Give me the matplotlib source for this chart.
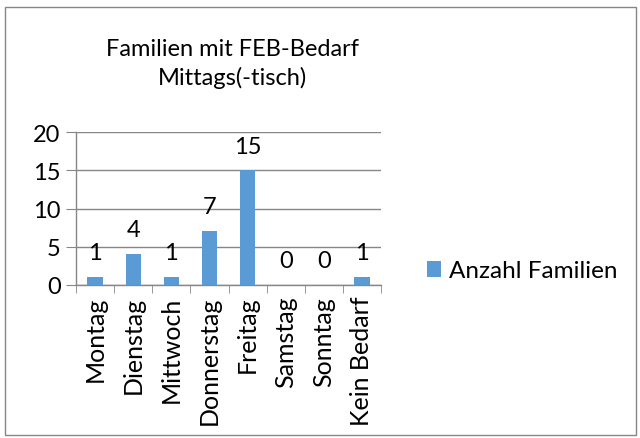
import numpy as np
import matplotlib.pyplot as plt
from matplotlib.patches import Rectangle

plt.rcParams['font.family'] = ['Lato', 'DejaVu Sans']

tage = ['Montag', 'Dienstag', 'Mittwoch', 'Donnerstag', 'Freitag',
        'Samstag', 'Sonntag', 'Kein Bedarf']
familien = [1, 4, 1, 7, 15, 0, 0, 1]
yticks = [0, 5, 10, 15, 20]

W, H = 640, 439
fig = plt.figure(figsize=(W/100, H/100), dpi=100)
ax = fig.add_axes([76/W, 1-285.7/H, (381-76)/W, (285.7-133.3)/H])

x = np.arange(len(tage))
bars = ax.bar(x, familien, width=0.4, color='#5B9BD5', label='Anzahl Familien', zorder=3)
for xi, v in zip(x, familien):
    ax.annotate(str(v), (xi, v), xytext=(0, 10), textcoords='offset points',
                ha='center', va='bottom', fontsize=17)

ax.set_ylim(0, 20)
ax.set_xlim(-0.5, len(tage)-0.5)
ax.set_yticks(yticks)
ax.set_yticklabels([str(t) for t in yticks], fontsize=17)
ax.set_xticks(x)
ax.set_xticklabels(tage, rotation=90, fontsize=18)
ax.set_xticks(np.arange(-0.5, len(tage)), minor=True)
ax.tick_params(axis='x', which='major', length=0, pad=8)
ax.tick_params(axis='x', which='minor', length=6, color='#868686', direction='out')
ax.tick_params(axis='y', length=7, color='#868686', pad=4)
ax.yaxis.grid(True, color='#868686', linewidth=1)
for s in ['top', 'right']:
    ax.spines[s].set_visible(False)
for s in ['left', 'bottom']:
    ax.spines[s].set_color('#868686')
    ax.spines[s].set_linewidth(1)

fig.text(232/W, 1-50/H, 'Familien mit FEB-Bedarf', ha='center', va='center', fontsize=17)
fig.text(232/W, 1-78/H, 'Mittags(-tisch)', ha='center', va='center', fontsize=17)

fig.legend(handles=[bars], labels=['Anzahl Familien'], loc='center left',
           bbox_to_anchor=(405/W, 1-272/H), frameon=False, fontsize=17.5,
           handlelength=0.6, handleheight=0.6, handletextpad=0.3)

fig.patches.append(Rectangle((5/W, 1-436/H), 631/W, 428/H, transform=fig.transFigure,
                             fill=False, edgecolor='#868686', linewidth=1))

fig.savefig('out.png', dpi=100)
